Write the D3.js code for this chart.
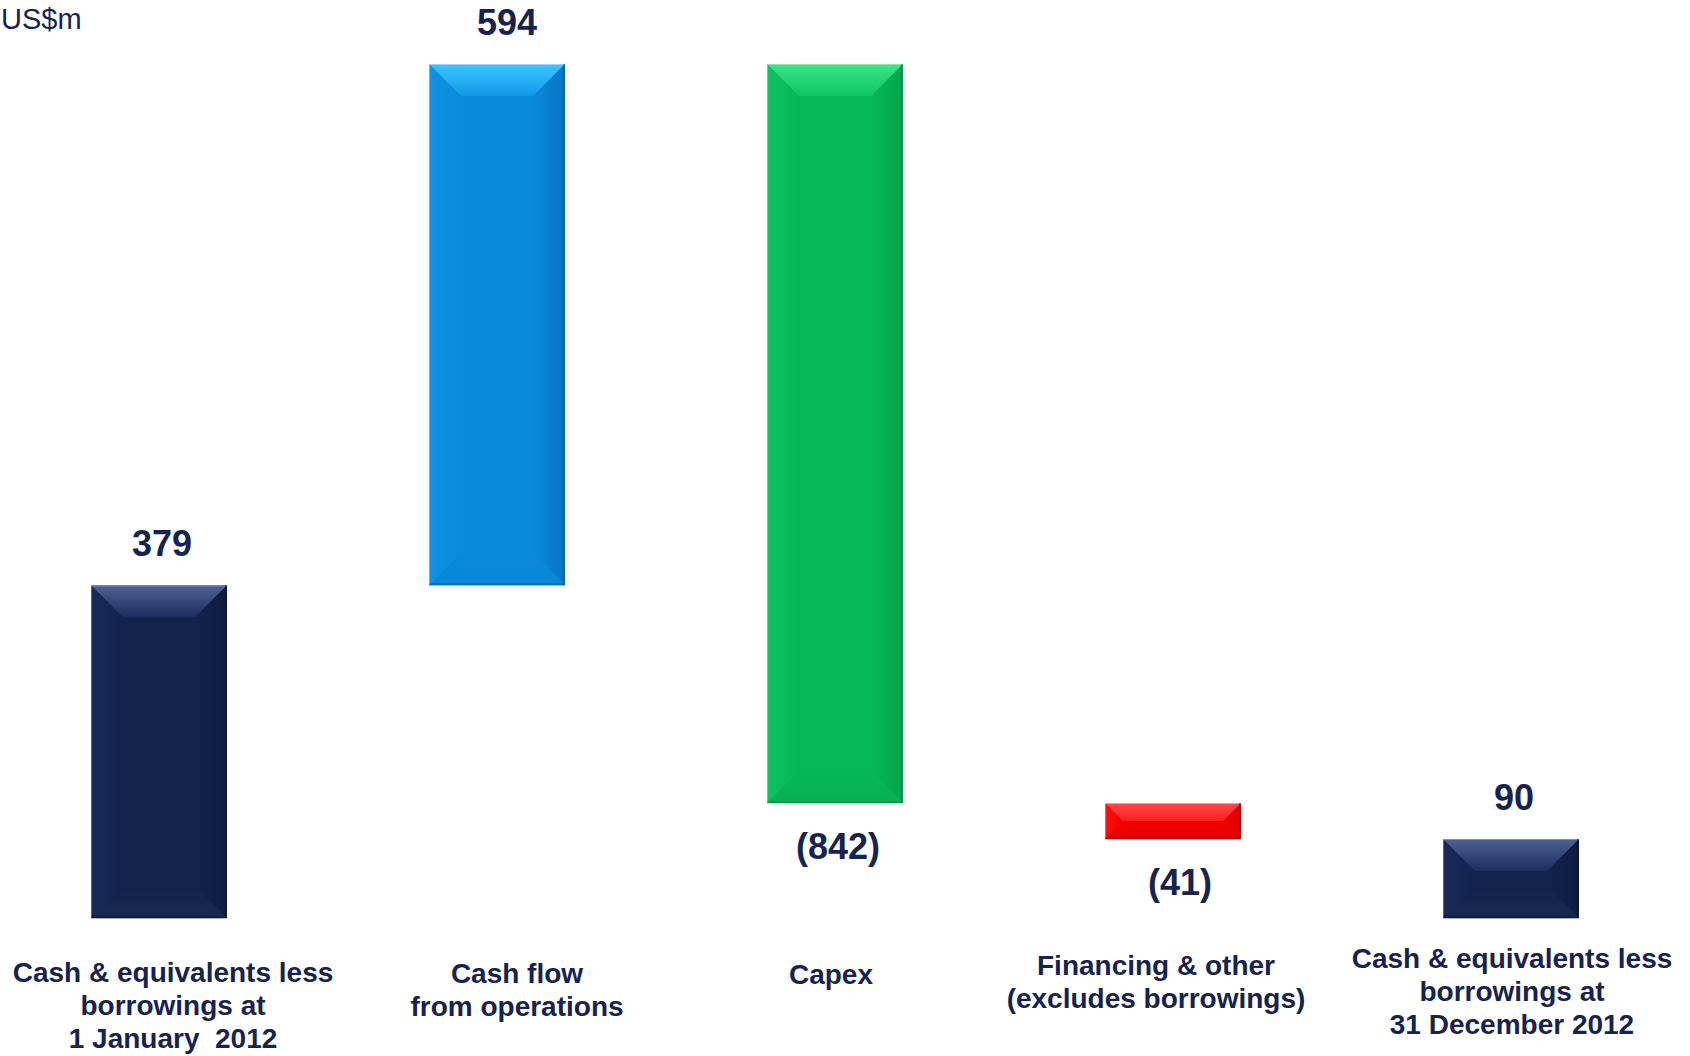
<!DOCTYPE html>
<html>
<head>
<meta charset="utf-8">
<script src="https://cdn.jsdelivr.net/npm/d3@7"></script>
<style>
  html, body { margin: 0; padding: 0; background: #ffffff; overflow: hidden; }
  svg { display: block; }
</style>
</head>
<body>
<svg id="chart" width="1690" height="1056"></svg>
<script>
// ---------- data ----------
const categories = [
  ["Cash & equivalents less", "borrowings at", "1 January  2012"],
  ["Cash flow", "from operations"],
  ["Capex"],
  ["Financing & other", "(excludes borrowings)"],
  ["Cash & equivalents less", "borrowings at", "31 December 2012"]
];
const values = [379, 594, -842, -41, 90];
const kinds = ["total", "delta", "delta", "delta", "total"];
const unitLabel = "US$m";

// ---------- layout / style ----------
const navy = { main: "#12234e", topHi: "#4f6393", topLo: "#1a2d5e", left: "#172a58", right: "#0e1b42",
               bottom: "#172853", edgeLight: "#8493b5", edgeDark: "#0a1434" };
const palette = [
  navy,
  { main: "#0a8adb", topHi: "#3cc6ff", topLo: "#1299e6", left: "#0f92e3", right: "#0674c2",
    bottom: "#0b86d4", edgeLight: "#9ad8fa", edgeDark: "#05619f" },
  { main: "#06b857", topHi: "#3be487", topLo: "#0dc664", left: "#0dc261", right: "#03a44b",
    bottom: "#07b154", edgeLight: "#8fe6b5", edgeDark: "#038a3f" },
  { main: "#f40000", topHi: "#ff4a4a", topLo: "#ff2020", left: "#fa1010", right: "#d80000",
    bottom: "#e60000", edgeLight: "#ff9a9a", edgeDark: "#b80000" },
  navy
];
const textColor = "#16234e";
const font = "'Liberation Sans', Arial, sans-serif";
const valueLabelDx = [3, 10, 3, 7, 3];
const catLabelDx = [14, 20, -4, -17, 1];
const catLabelDy = [64, 65, 66, 57, 50];
const lineH = 33;

// ---------- compute waterfall ----------
let run = 0;
const bars = values.map((v, i) => {
  let y0, y1;
  if (kinds[i] === "total") { y0 = 0; y1 = v; run = v; }
  else { y0 = run; y1 = run + v; run = y1; }
  return { i, v, lo: Math.min(y0, y1), hi: Math.max(y0, y1) };
});

const x = d3.scaleBand().domain(d3.range(values.length)).range([-10, 1680])
  .paddingInner(0.598).paddingOuter(0.299);
const y = d3.scaleLinear().domain([0, 1000]).range([918, 40.3]);

const svg = d3.select("#chart");
const defs = svg.append("defs");
function lin(id, x2, y2, stops) {
  const g = defs.append("linearGradient").attr("id", id)
    .attr("x1", 0).attr("y1", 0).attr("x2", x2).attr("y2", y2);
  stops.forEach(([o, c]) => g.append("stop").attr("offset", o).attr("stop-color", c));
}
palette.forEach((p, i) => {
  lin("top" + i, 0, 1, [["0%", p.topHi], ["100%", p.topLo]]);
  lin("left" + i, 1, 0, [["0%", p.left], ["100%", p.main]]);
  lin("right" + i, 1, 0, [["0%", p.main], ["100%", p.right]]);
  lin("bot" + i, 0, 1, [["0%", p.main], ["100%", p.bottom]]);
});

const gBars = svg.append("g");
bars.forEach(b => {
  const p = palette[b.i];
  const x0 = x(b.i), x1 = x(b.i) + x.bandwidth();
  const t = y(b.hi), bt = y(b.lo);
  const h = bt - t;
  const bev = Math.min(32, h / 2, x.bandwidth() / 2);
  const g = gBars.append("g");
  g.append("rect").attr("x", x0).attr("y", t).attr("width", x1 - x0).attr("height", h)
    .attr("fill", p.main);
  const poly = pts => pts.map(q => q.join(",")).join(" ");
  g.append("polygon").attr("points", poly([[x0, t], [x0 + bev, t + bev], [x0 + bev, bt - bev], [x0, bt]]))
    .attr("fill", `url(#left${b.i})`);
  g.append("polygon").attr("points", poly([[x1, t], [x1 - bev, t + bev], [x1 - bev, bt - bev], [x1, bt]]))
    .attr("fill", `url(#right${b.i})`);
  g.append("polygon").attr("points", poly([[x0, bt], [x0 + bev, bt - bev], [x1 - bev, bt - bev], [x1, bt]]))
    .attr("fill", `url(#bot${b.i})`);
  g.append("polygon").attr("points", poly([[x0, t], [x0 + bev, t + bev], [x1 - bev, t + bev], [x1, t]]))
    .attr("fill", `url(#top${b.i})`);
  g.append("line").attr("x1", x0).attr("x2", x1).attr("y1", t + 0.5).attr("y2", t + 0.5)
    .attr("stroke", p.edgeLight).attr("stroke-width", 1);
  g.append("line").attr("x1", x0 + 0.5).attr("x2", x0 + 0.5).attr("y1", t).attr("y2", bt)
    .attr("stroke", p.edgeLight).attr("stroke-width", 1).attr("stroke-opacity", 0.6);
  g.append("line").attr("x1", x1 - 1).attr("x2", x1 - 1).attr("y1", t).attr("y2", bt)
    .attr("stroke", p.edgeDark).attr("stroke-width", 2).attr("stroke-opacity", 0.6);
  g.append("line").attr("x1", x0).attr("x2", x1).attr("y1", bt - 1).attr("y2", bt - 1)
    .attr("stroke", p.edgeDark).attr("stroke-width", 2).attr("stroke-opacity", 0.55);
  g.append("line").attr("x1", x0).attr("x2", x1).attr("y1", bt + 0.5).attr("y2", bt + 0.5)
    .attr("stroke", p.edgeLight).attr("stroke-width", 1).attr("stroke-opacity", 0.7);
});

// value labels
const fmt = v => v < 0 ? `(${Math.abs(v)})` : `${v}`;
svg.append("g").selectAll("text").data(bars).join("text")
  .attr("x", d => x(d.i) + x.bandwidth() / 2 + valueLabelDx[d.i])
  .attr("y", d => d.v < 0 ? y(d.lo) + 56 : y(d.hi) - 29)
  .attr("text-anchor", "middle")
  .attr("font-family", font)
  .attr("font-weight", "bold")
  .attr("font-size", 36)
  .attr("fill", textColor)
  .text(d => fmt(d.v));

// category labels
const gCat = svg.append("g");
categories.forEach((lines, i) => {
  const t = gCat.append("text")
    .attr("text-anchor", "middle")
    .attr("font-family", font)
    .attr("font-weight", "bold")
    .attr("font-size", 28)
    .attr("fill", textColor);
  lines.forEach((ln, k) => {
    t.append("tspan")
      .attr("x", x(i) + x.bandwidth() / 2 + catLabelDx[i])
      .attr("y", y(0) + catLabelDy[i] + k * lineH)
      .attr("xml:space", "preserve")
      .text(ln);
  });
});

// unit label
svg.append("text")
  .attr("x", 1).attr("y", 29)
  .attr("font-family", font)
  .attr("font-size", 29)
  .attr("fill", textColor)
  .text(unitLabel);
</script>
</body>
</html>
